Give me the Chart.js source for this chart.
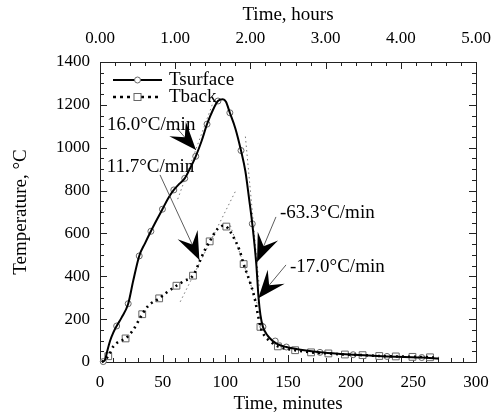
<!DOCTYPE html>
<html>
<head>
<meta charset="utf-8">
<script src="https://cdn.jsdelivr.net/npm/chart.js@4.4.1/dist/chart.umd.min.js"></script>
<style>
  html, body { margin: 0; padding: 0; background: #fff; }
</style>
</head>
<body>
<canvas id="chart" width="498" height="417"></canvas>
<script>
// Tsurface curve, time in minutes / temperature in °C
const surfTime = [1.5, 4, 5.8, 8, 10.6, 13.3, 17.2, 22.5, 26.5, 31.3, 36, 40.6, 45, 49.8, 54, 58.9, 63, 67.6, 72, 76.4, 81, 85.4, 90, 94.1, 98, 100.5, 103.6, 108, 112.5, 116, 119, 121.5, 124.7, 126.5, 128, 130, 133.9, 137.9, 142, 148.7, 160, 175.5, 190, 202, 215, 229, 243, 256.7, 270.5];
const surfTemp = [0, 10, 51, 98, 137, 168, 207, 272, 379, 495, 555, 610, 660, 713, 760, 803, 830, 857, 905, 960, 1030, 1110, 1175, 1218, 1226, 1214, 1163, 1090, 987, 890, 760, 645, 457, 300, 220, 164, 122, 98, 82, 70, 57, 45, 38, 34, 30, 26, 23, 21, 16];
// circle markers on Tsurface
const surfMarkTime = [2.6, 13.3, 22.5, 31.3, 40.6, 49.8, 58.9, 67.6, 76.4, 85.4, 94.1, 103.6, 112.5, 121.5, 130, 139.8, 148.7, 175.5, 202, 229, 256.7];
const surfMarkTemp = [2, 168, 272, 495, 610, 713, 803, 857, 960, 1110, 1218, 1163, 987, 645, 164, 98, 70, 45, 34, 26, 21];

// Tback curve
const backTime = [1.5, 4, 6.6, 10.6, 15, 20.4, 26.5, 33.7, 38.4, 47.2, 54, 61, 67, 74.2, 79.6, 83, 87.5, 94, 98, 100.8, 103.5, 106, 111.4, 114.6, 119.3, 123.3, 126, 128, 131, 135, 141.9, 155.7, 168.4, 182.2, 195.4, 209.5, 222.8, 236, 249.3, 263.3, 270];
const backTemp = [0, 12, 27, 72, 95, 110, 150, 223, 262, 297, 328, 356, 378, 403, 470, 515, 563, 622, 636, 632, 612, 588, 520, 457, 379, 300, 220, 164, 125, 100, 73, 55, 45, 40, 35, 32, 28, 26, 24, 22, 18];
// square markers on Tback
const backMarkTime = [6.6, 20.4, 33.7, 47.2, 61, 74.2, 87.5, 100.8, 114.6, 128, 141.9, 155.7, 168.4, 182.2, 195.4, 209.5, 222.8, 236, 249.3, 263.3];
const backMarkTemp = [27, 110, 223, 297, 356, 403, 563, 632, 457, 164, 73, 55, 45, 40, 35, 32, 28, 26, 24, 22];

// slope labels, arrows and tangent lines (data units)
const slopeLabels = ['16.0°C/min', '11.7°C/min', '-63.3°C/min', '-17.0°C/min'];
const labelTime = [5.6, 5.3, 143.6, 151.6];
const labelTemp = [1106, 911, 694, 445];
const arrowFromTime = [61.2, 47.9, 140.4, 148.4];
const arrowFromTemp = [1092, 873, 677, 453];
const arrowTipTime = [76.6, 79.3, 125.3, 126.3];
const arrowTipTemp = [989, 476, 467, 297];
const tangentStartTime = [62, 64, 116, 104];
const tangentStartTemp = [760, 281, 1052, 637];
const tangentEndTime = [90, 108, 127, 126];
const tangentEndTemp = [1208, 796, 356, 263];

const FONT = 'Liberation Serif';
Chart.defaults.font.family = FONT;
Chart.defaults.color = '#000';

const pts = (xs, ys) => xs.map((x, i) => ({ x: x, y: ys[i] }));

const line = (ctx, x1, y1, x2, y2) => {
    ctx.beginPath();
    ctx.moveTo(x1, y1);
    ctx.lineTo(x2, y2);
    ctx.stroke();
};

// frame with inward ticks on all four sides, plus tangent lines under the curves
const frameTicks = {
    id: 'frameTicks',
    beforeDatasetsDraw(chart) {
        const { ctx, chartArea: a, scales } = chart;
        ctx.save();
        ctx.strokeStyle = '#222';
        ctx.lineWidth = 1;
        ctx.strokeRect(a.left + 0.5, a.top + 0.5, a.right - a.left, a.bottom - a.top);
        for (let v = 0; v <= 300; v += 10) {
            const px = Math.round(scales.x.getPixelForValue(v)) + 0.5;
            line(ctx, px, a.bottom, px, a.bottom - (v % 50 === 0 ? 7 : 4));
        }
        for (let i = 0; i <= 25; i++) {
            const px = Math.round(scales.xh.getPixelForValue(i * 0.2)) + 0.5;
            line(ctx, px, a.top, px, a.top + (i % 5 === 0 ? 7 : 4));
        }
        for (let v = 0; v <= 1400; v += 50) {
            const py = Math.round(scales.y.getPixelForValue(v)) + 0.5;
            const len = v % 200 === 0 ? 7 : 4;
            line(ctx, a.left, py, a.left + len, py);
            line(ctx, a.right, py, a.right - len, py);
        }

        // tangent lines
        ctx.strokeStyle = '#777';
        ctx.lineWidth = 1;
        ctx.setLineDash([1.5, 3]);
        tangentStartTime.forEach((t, i) => {
            line(ctx,
                scales.x.getPixelForValue(t), scales.y.getPixelForValue(tangentStartTemp[i]),
                scales.x.getPixelForValue(tangentEndTime[i]), scales.y.getPixelForValue(tangentEndTemp[i]));
        });
        ctx.restore();
    },
    afterDatasetsDraw(chart) {
        const { ctx, chartArea: a, scales } = chart;
        ctx.save();

        // arrows
        arrowTipTime.forEach((t, i) => {
            const fx = scales.x.getPixelForValue(arrowFromTime[i]);
            const fy = scales.y.getPixelForValue(arrowFromTemp[i]);
            const tx = scales.x.getPixelForValue(t);
            const ty = scales.y.getPixelForValue(arrowTipTemp[i]);
            ctx.strokeStyle = '#333';
            ctx.lineWidth = 0.8;
            line(ctx, fx, fy, tx, ty);
            ctx.save();
            ctx.translate(tx, ty);
            ctx.rotate(Math.atan2(ty - fy, tx - fx));
            ctx.fillStyle = '#000';
            ctx.beginPath();
            ctx.moveTo(0, 0);
            ctx.lineTo(-28, -11);
            ctx.lineTo(-17, 0);
            ctx.lineTo(-28, 11);
            ctx.closePath();
            ctx.fill();
            ctx.restore();
        });

        // slope labels
        ctx.font = '19px "' + FONT + '"';
        ctx.fillStyle = '#000';
        ctx.textBaseline = 'middle';
        ctx.textAlign = 'left';
        slopeLabels.forEach((s, i) => {
            ctx.fillText(s, scales.x.getPixelForValue(labelTime[i]), scales.y.getPixelForValue(labelTemp[i]));
        });

        // legend
        const lx0 = a.left + 13, lx1 = a.left + 62, lxm = (lx0 + lx1) / 2;
        const r1 = a.top + 18, r2 = a.top + 35;
        ctx.strokeStyle = '#000';
        ctx.lineWidth = 2;
        line(ctx, lx0, r1, lx1, r1);
        ctx.setLineDash([3, 4]);
        ctx.lineWidth = 2.6;
        line(ctx, lx0, r2, lx1, r2);
        ctx.setLineDash([]);
        ctx.fillStyle = '#fff';
        ctx.strokeStyle = '#666';
        ctx.lineWidth = 1;
        ctx.beginPath();
        ctx.arc(lxm, r1, 3, 0, Math.PI * 2);
        ctx.fill();
        ctx.stroke();
        ctx.fillRect(lxm - 3.5, r2 - 3.5, 7, 7);
        ctx.strokeRect(lxm - 3.5, r2 - 3.5, 7, 7);
        ctx.fillStyle = '#000';
        ctx.fillText('Tsurface', a.left + 69, r1);
        ctx.fillText('Tback', a.left + 69, r2);
        ctx.restore();
    }
};

// fixed axis band sizes; drop the label overhang so the plot box keeps its place
const fixHeight = h => s => { s.height = h; s.paddingLeft = 0; s.paddingRight = 0; };

new Chart(document.getElementById('chart'), {
    type: 'scatter',
    data: {
        datasets: [
            {
                label: 'Tsurface',
                data: pts(surfTime, surfTemp),
                showLine: true,
                borderColor: '#000',
                borderWidth: 2,
                pointRadius: 0,
                cubicInterpolationMode: 'monotone',
                clip: false
            },
            {
                label: 'Tback',
                data: pts(backTime, backTemp),
                showLine: true,
                borderColor: '#000',
                borderWidth: 2.6,
                borderDash: [2, 4],
                pointRadius: 0,
                cubicInterpolationMode: 'monotone',
                clip: false
            },
            {
                label: 'Tsurface points',
                data: pts(surfMarkTime, surfMarkTemp),
                pointStyle: 'circle',
                pointRadius: 3,
                pointBorderWidth: 1,
                pointBorderColor: '#666',
                pointBackgroundColor: '#fff',
                clip: false
            },
            {
                label: 'Tback points',
                data: pts(backMarkTime, backMarkTemp),
                pointStyle: 'rect',
                pointRadius: 4.8,
                pointBorderWidth: 1,
                pointBorderColor: '#666',
                pointBackgroundColor: '#fff',
                clip: false
            }
        ]
    },
    options: {
        responsive: false,
        animation: false,
        devicePixelRatio: 1,
        layout: { padding: { left: 0, right: 22, top: 0, bottom: 0 } },
        plugins: {
            legend: { display: false },
            tooltip: { enabled: false }
        },
        scales: {
            x: {
                type: 'linear', position: 'bottom', min: 0, max: 300,
                ticks: { stepSize: 50, padding: 10, font: { size: 17 }, color: '#000', callback: v => String(v) },
                grid: { display: false, drawTicks: false },
                border: { display: false },
                title: { display: true, text: 'Time, minutes', font: { size: 19 }, color: '#000', padding: { top: 0, bottom: 2 } },
                afterFit: fixHeight(55)
            },
            xh: {
                type: 'linear', position: 'top', min: 0, max: 5,
                ticks: { stepSize: 1, padding: 13, font: { size: 17 }, color: '#000', callback: v => v.toFixed(2) },
                grid: { display: false, drawTicks: false },
                border: { display: false },
                title: { display: true, text: 'Time, hours', font: { size: 19 }, color: '#000', padding: { top: 4, bottom: 0 } },
                afterFit: fixHeight(62)
            },
            y: {
                type: 'linear', position: 'left', min: 0, max: 1400,
                ticks: { stepSize: 200, padding: 10, font: { size: 17 }, color: '#000', callback: v => String(v) },
                grid: { display: false, drawTicks: false },
                border: { display: false },
                title: { display: true, text: 'Temperature, °C', font: { size: 19 }, color: '#000', padding: { top: 10, bottom: 0 } },
                afterFit: s => { s.width = 100; s.paddingTop = 0; s.paddingBottom = 0; }
            }
        }
    },
    plugins: [frameTicks]
});
</script>
</body>
</html>
